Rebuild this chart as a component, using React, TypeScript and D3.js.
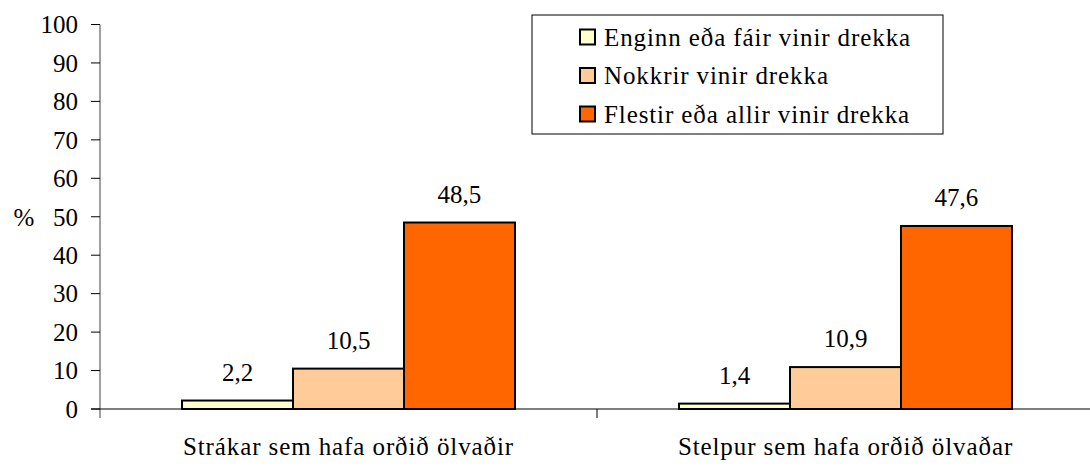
import * as d3 from 'd3'
import { useEffect, useRef } from 'react'

const categories = ['Strákar sem hafa orðið ölvaðir', 'Stelpur sem hafa orðið ölvaðar']
const seriesNames = ['Enginn eða fáir vinir drekka', 'Nokkrir vinir drekka', 'Flestir eða allir vinir drekka']
const seriesColors = ['#ffffcc', '#ffcc99', '#ff6600']
const fewFriends = [2.2, 1.4]
const someFriends = [10.5, 10.9]
const mostFriends = [48.5, 47.6]
const yTicks = [0, 10, 20, 30, 40, 50, 60, 70, 80, 90, 100]

const W = 1090
const H = 467
const FONT = 'Liberation Serif, Times New Roman, serif'

export default function App() {
    const svgRef = useRef(null) as any

    useEffect(() => {
        const svg = d3.select(svgRef.current)
        svg.selectAll('*').remove()

        const left = 100
        const right = 1094
        const top = 24.5
        const bottom = 409

        const series = [fewFriends, someFriends, mostFriends]

        const x0 = d3.scaleBand().domain(categories).range([left, right]).padding(0)
        const groupW = x0.bandwidth() * 0.67
        const x1 = d3.scaleBand().domain(seriesNames).range([0, groupW]).padding(0)
        const y = d3.scaleLinear().domain([0, 100]).range([bottom, top])

        // y axis
        svg.append('line')
            .attr('x1', left).attr('x2', left)
            .attr('y1', y(100)).attr('y2', bottom + 9)
            .attr('stroke', '#808080').attr('stroke-width', 1.5)

        const yg = svg.append('g')
        yg.selectAll('line')
            .data(yTicks)
            .join('line')
            .attr('x1', left - 9).attr('x2', left)
            .attr('y1', d => y(d)).attr('y2', d => y(d))
            .attr('stroke', '#000').attr('stroke-width', 1)
        yg.selectAll('text')
            .data(yTicks)
            .join('text')
            .attr('x', 78)
            .attr('y', d => y(d))
            .attr('dy', '0.35em')
            .attr('text-anchor', 'end')
            .text(d => d)

        svg.append('text')
            .attr('x', 24).attr('y', y(50))
            .attr('dy', '0.35em')
            .attr('text-anchor', 'middle')
            .text('%')

        // bars
        categories.forEach((cat, ci) => {
            const gx = (x0(cat) as number) + (x0.bandwidth() - groupW) / 2
            seriesNames.forEach((s, si) => {
                const v = series[si][ci]
                const bx = gx + (x1(s) as number)
                svg.append('rect')
                    .attr('x', bx)
                    .attr('y', y(v))
                    .attr('width', x1.bandwidth())
                    .attr('height', bottom - y(v))
                    .attr('fill', seriesColors[si])
                    .attr('stroke', '#000')
                    .attr('stroke-width', 2)
                svg.append('text')
                    .attr('x', bx + x1.bandwidth() / 2)
                    .attr('y', y(v) - 20)
                    .attr('text-anchor', 'middle')
                    .text(String(v).replace('.', ','))
            })
            svg.append('text')
                .attr('x', (x0(cat) as number) + x0.bandwidth() / 2)
                .attr('y', 455)
                .attr('text-anchor', 'middle')
                .attr('class', 'wide')
                .text(cat)
        })

        // x axis
        svg.append('line')
            .attr('x1', left - 9).attr('x2', W)
            .attr('y1', bottom).attr('y2', bottom)
            .attr('stroke', '#000').attr('stroke-width', 1.2)
        svg.append('line')
            .attr('x1', x0(categories[1]) as number).attr('x2', x0(categories[1]) as number)
            .attr('y1', bottom).attr('y2', bottom + 9)
            .attr('stroke', '#000').attr('stroke-width', 1)

        // legend
        const lg = svg.append('g')
        lg.append('rect')
            .attr('x', 532).attr('y', 15)
            .attr('width', 411).attr('height', 119)
            .attr('fill', '#fff')
            .attr('stroke', '#000').attr('stroke-width', 1)
        const rowY = [37, 75.5, 114]
        seriesNames.forEach((s, i) => {
            lg.append('rect')
                .attr('x', 580).attr('y', rowY[i] - 7.5)
                .attr('width', 15).attr('height', 15)
                .attr('fill', seriesColors[i])
                .attr('stroke', '#000').attr('stroke-width', 2)
            lg.append('text')
                .attr('x', 604).attr('y', rowY[i])
                .attr('dy', '0.35em')
                .attr('class', 'wide')
                .text(s)
        })

        svg.selectAll('text')
            .attr('font-family', FONT)
            .attr('font-size', 25)
            .attr('fill', '#000')
        svg.selectAll('text.wide')
            .attr('letter-spacing', 0.9)
    }, [])

    return (
        <svg ref={svgRef} width={W} height={H}
            style={{ position: 'absolute', left: 0, top: 0, background: '#fff' }} />
    )
}
